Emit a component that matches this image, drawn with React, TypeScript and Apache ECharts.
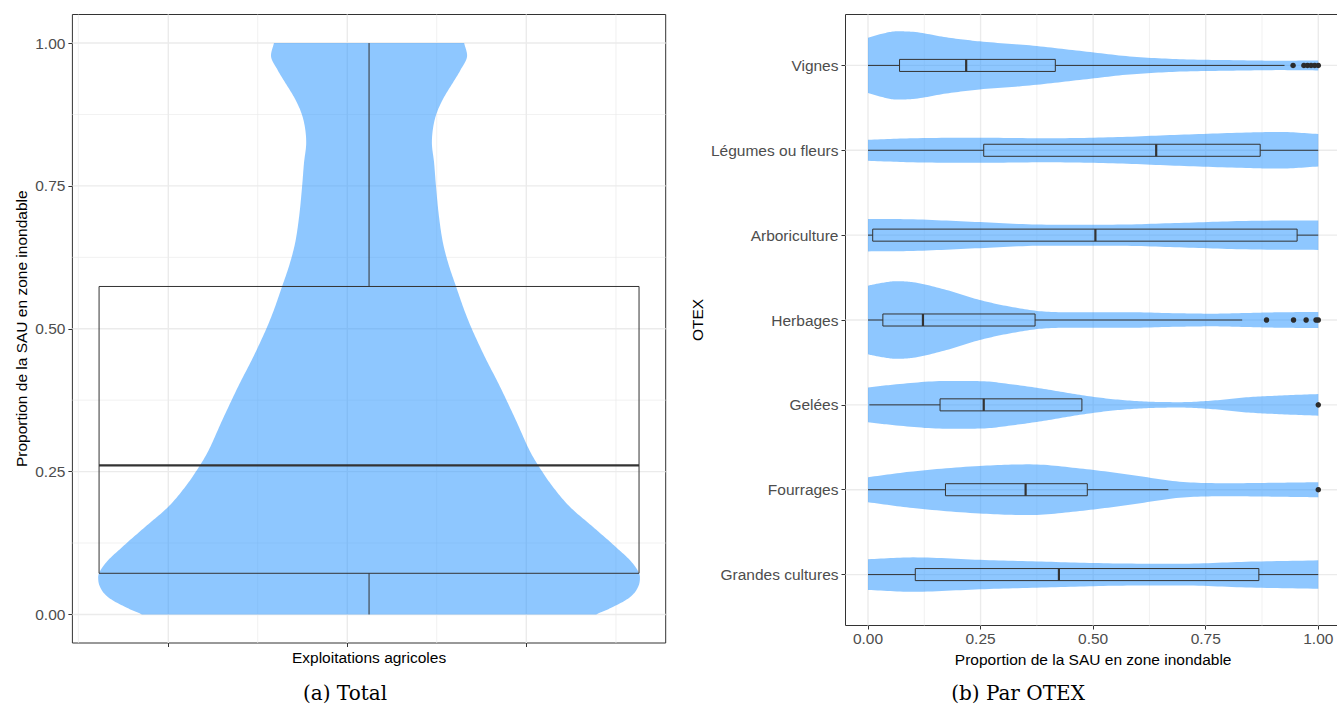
import React, { useEffect, useRef } from "react";
import * as echarts from "echarts";

// ---------------- Left panel (a) Total ----------------
const leftYTicks = [0, 0.25, 0.5, 0.75, 1];
const leftYMinor = [0.125, 0.375, 0.625, 0.875];
const leftXTicks = [-0.335, -0.0363, 0.2624];
const leftXMinor = [-0.485, -0.1858, 0.1129, 0.412];

const leftViolinValues = [0, 0.013, 0.03, 0.048, 0.065, 0.089, 0.118, 0.153, 0.188, 0.223, 0.253, 0.282, 0.34, 0.399, 0.457, 0.516, 0.574, 0.615, 0.65, 0.697, 0.75, 0.791, 0.826, 0.861, 0.884, 0.908, 0.931, 0.954, 0.978, 1.0];
const leftViolinDensity = [0.838, 0.9, 0.963, 0.993, 1.0, 0.974, 0.911, 0.827, 0.742, 0.679, 0.635, 0.598, 0.542, 0.483, 0.421, 0.365, 0.321, 0.292, 0.273, 0.258, 0.247, 0.24, 0.232, 0.24, 0.255, 0.28, 0.31, 0.339, 0.362, 0.351];
// [lower whisker, Q1, median, Q3, upper whisker]
const leftBoxStats = [0, 0.072, 0.261, 0.574, 1.0];

// ---------------- Right panel (b) Par OTEX ----------------
// bottom to top
const otexCategories = ["Grandes cultures", "Fourrages", "Gelées", "Herbages", "Arboriculture", "Légumes ou fleurs", "Vignes"];
const rightXTicks = [0, 0.25, 0.5, 0.75, 1];
const rightXMinor = [0.125, 0.375, 0.625, 0.875];

const grandesValues = [0, 0.1, 0.248, 0.396, 0.544, 0.692, 0.84, 1];
const grandesDensity = [0.395, 0.444, 0.38, 0.331, 0.289, 0.279, 0.331, 0.367];
const fourragesValues = [0, 0.1, 0.248, 0.359, 0.47, 0.581, 0.692, 0.803, 0.913, 1];
const fourragesDensity = [0.323, 0.473, 0.612, 0.654, 0.55, 0.388, 0.207, 0.168, 0.181, 0.194];
const geleesValues = [0, 0.063, 0.174, 0.248, 0.322, 0.396, 0.47, 0.544, 0.618, 0.692, 0.766, 0.84, 0.913, 1];
const geleesDensity = [0.447, 0.53, 0.615, 0.612, 0.525, 0.401, 0.258, 0.147, 0.085, 0.07, 0.111, 0.194, 0.24, 0.279];
const herbagesValues = [0, 0.026, 0.063, 0.1, 0.174, 0.248, 0.322, 0.396, 0.47, 0.581, 0.692, 0.766, 0.84, 0.913, 1];
const herbagesDensity = [0.886, 0.948, 1.0, 0.974, 0.775, 0.517, 0.331, 0.214, 0.199, 0.199, 0.173, 0.163, 0.181, 0.199, 0.207];
const arboValues = [0, 0.1, 0.248, 0.396, 0.544, 0.692, 0.84, 1];
const arboDensity = [0.419, 0.408, 0.336, 0.271, 0.271, 0.315, 0.367, 0.38];
const legumesValues = [0, 0.1, 0.248, 0.396, 0.544, 0.692, 0.84, 0.913, 1];
const legumesDensity = [0.271, 0.31, 0.323, 0.31, 0.336, 0.401, 0.457, 0.473, 0.419];
const vignesValues = [0, 0.026, 0.063, 0.1, 0.174, 0.248, 0.359, 0.47, 0.581, 0.692, 0.803, 0.913, 1];
const vignesDensity = [0.711, 0.801, 0.879, 0.866, 0.724, 0.62, 0.517, 0.375, 0.233, 0.16, 0.137, 0.121, 0.129];

const otexViolinValues = [grandesValues, fourragesValues, geleesValues, herbagesValues, arboValues, legumesValues, vignesValues];
const otexViolinDensity = [grandesDensity, fourragesDensity, geleesDensity, herbagesDensity, arboDensity, legumesDensity, vignesDensity];

// [lower whisker, Q1, median, Q3, upper whisker]
const otexBoxStats = [
  [0, 0.105, 0.424, 0.868, 1.0],
  [0, 0.172, 0.35, 0.487, 0.667],
  [0.003, 0.16, 0.257, 0.475, 0.475],
  [0, 0.033, 0.122, 0.371, 0.831],
  [0, 0.0104, 0.505, 0.953, 1.0],
  [0, 0.257, 0.64, 0.871, 1.0],
  [0, 0.07, 0.218, 0.416, 0.925],
];
const otexOutliers = [
  [],
  [1.0],
  [1.0],
  [0.885, 0.945, 0.973, 0.995, 1.0],
  [],
  [],
  [0.944, 0.968, 0.976, 0.984, 0.992, 1.0],
];

// ---------------- styling constants ----------------
const SANS = "'Liberation Sans', Arial, Helvetica, sans-serif";
const SERIF = "'DejaVu Serif', 'Liberation Serif', serif";
const FS = 15.5;
const GRID_COLOR = "#EBEBEB";
const INK = "#333333";
const VIOLIN_FILL = "rgba(30,144,255,0.5)";
const LEFT_VIOLIN_HALF = 0.452;
const LEFT_BOX_HALF = 0.4505;
const RIGHT_VIOLIN_HALF = 0.457;
const RIGHT_BOX_HALF = 0.071;

function monotoneSample(xs: number[], ys: number[], steps = 14): number[][] {
  const n = xs.length;
  const d: number[] = [];
  for (let i = 0; i < n - 1; i++) d.push((ys[i + 1] - ys[i]) / (xs[i + 1] - xs[i]));
  const t: number[] = new Array(n).fill(0);
  t[0] = d[0];
  t[n - 1] = d[n - 2];
  for (let i = 1; i < n - 1; i++) t[i] = d[i - 1] * d[i] <= 0 ? 0 : (d[i - 1] + d[i]) / 2;
  for (let i = 0; i < n - 1; i++) {
    if (d[i] === 0) {
      t[i] = 0;
      t[i + 1] = 0;
      continue;
    }
    const a = t[i] / d[i];
    const b = t[i + 1] / d[i];
    const s = a * a + b * b;
    if (s > 9) {
      const tau = 3 / Math.sqrt(s);
      t[i] = tau * a * d[i];
      t[i + 1] = tau * b * d[i];
    }
  }
  const out: number[][] = [];
  for (let i = 0; i < n - 1; i++) {
    const h = xs[i + 1] - xs[i];
    for (let k = 0; k < steps; k++) {
      const s = k / steps;
      const s2 = s * s;
      const s3 = s2 * s;
      const h00 = 2 * s3 - 3 * s2 + 1;
      const h10 = s3 - 2 * s2 + s;
      const h01 = -2 * s3 + 3 * s2;
      const h11 = s3 - s2;
      out.push([xs[i] + s * h, h00 * ys[i] + h10 * h * t[i] + h01 * ys[i + 1] + h11 * h * t[i + 1]]);
    }
  }
  out.push([xs[n - 1], ys[n - 1]]);
  return out;
}

type GridLine = { dir: "h" | "v"; v: number; major: boolean };

function makeGridSeries(lines: GridLine[], axisIndex: number) {
  return {
    type: "custom",
    xAxisIndex: axisIndex,
    yAxisIndex: axisIndex,
    silent: true,
    z: 1,
    data: lines.map((_, i) => [i]),
    renderItem: (params: any, api: any) => {
      const ln = lines[params.dataIndex];
      const cs = params.coordSys;
      const lw = ln.major ? 1.4 : 0.7;
      if (ln.dir === "h") {
        const y = api.coord([0, ln.v])[1];
        return { type: "line", shape: { x1: cs.x, y1: y, x2: cs.x + cs.width, y2: y }, style: { stroke: GRID_COLOR, lineWidth: lw } };
      }
      const x = api.coord([ln.v, 1])[0];
      return { type: "line", shape: { x1: x, y1: cs.y, x2: x, y2: cs.y + cs.height }, style: { stroke: GRID_COLOR, lineWidth: lw } };
    },
  };
}

const leftGridLines: GridLine[] = [
  ...leftYMinor.map((v) => ({ dir: "h" as const, v, major: false })),
  ...leftXMinor.map((v) => ({ dir: "v" as const, v, major: false })),
  ...leftYTicks.map((v) => ({ dir: "h" as const, v, major: true })),
  ...leftXTicks.map((v) => ({ dir: "v" as const, v, major: true })),
];
const rightGridLines: GridLine[] = [
  ...rightXMinor.map((v) => ({ dir: "v" as const, v, major: false })),
  ...rightXTicks.map((v) => ({ dir: "v" as const, v, major: true })),
  ...otexCategories.map((_, i) => ({ dir: "h" as const, v: i + 1, major: true })),
];

const lineStyle = (w = 1) => ({ stroke: INK, lineWidth: w, fill: "none" });
const hiddenAxisLine = { show: false, onZero: false };

const option: any = {
  animation: false,
  backgroundColor: "#ffffff",
  grid: [
    { left: 72.4, top: 14.5, width: 593.3, height: 628.5, show: true, borderColor: INK, borderWidth: 1, backgroundColor: "#fff", containLabel: false },
    { left: 845.5, top: 14.5, width: 495.3, height: 611, show: true, borderColor: INK, borderWidth: 1, backgroundColor: "#fff", containLabel: false },
  ],
  xAxis: [
    {
      type: "value",
      gridIndex: 0,
      position: "bottom",
      min: -0.495,
      max: 0.495,
      axisLine: hiddenAxisLine,
      axisTick: { show: true, customValues: leftXTicks, length: 4, lineStyle: { color: INK, width: 1 } },
      axisLabel: { show: false },
      splitLine: { show: false },
      name: "Exploitations agricoles",
      nameLocation: "middle",
      nameGap: 6,
      nameTextStyle: { color: "#000", fontSize: FS, fontFamily: SANS },
    },
    {
      type: "value",
      gridIndex: 1,
      position: "bottom",
      min: -0.05,
      max: 1.05,
      axisLine: hiddenAxisLine,
      axisTick: { show: true, customValues: rightXTicks, length: 4, lineStyle: { color: INK, width: 1 } },
      axisLabel: { show: true, customValues: rightXTicks, margin: 4.7, color: "#4D4D4D", fontSize: FS, fontFamily: SANS, formatter: (v: number) => v.toFixed(2) },
      splitLine: { show: false },
      name: "Proportion de la SAU en zone inondable",
      nameLocation: "middle",
      nameGap: 23,
      nameTextStyle: { color: "#000", fontSize: FS, fontFamily: SANS },
    },
  ],
  yAxis: [
    {
      type: "value",
      gridIndex: 0,
      position: "left",
      min: -0.05,
      max: 1.05,
      axisLine: hiddenAxisLine,
      axisTick: { show: true, customValues: leftYTicks, length: 4, lineStyle: { color: INK, width: 1 } },
      axisLabel: { show: true, customValues: leftYTicks, margin: 7, color: "#4D4D4D", fontSize: FS, fontFamily: SANS, formatter: (v: number) => v.toFixed(2) },
      splitLine: { show: false },
      name: "Proportion de la SAU en zone inondable",
      nameLocation: "middle",
      nameRotate: 90,
      nameGap: 43,
      nameTextStyle: { color: "#000", fontSize: FS, fontFamily: SANS },
    },
    {
      type: "value",
      gridIndex: 1,
      position: "left",
      min: 0.4,
      max: 7.6,
      axisLine: hiddenAxisLine,
      axisTick: { show: true, customValues: otexCategories.map((_, i) => i + 1), length: 4, lineStyle: { color: INK, width: 1 } },
      axisLabel: {
        show: true,
        customValues: otexCategories.map((_, i) => i + 1),
        margin: 7,
        color: "#4D4D4D",
        fontSize: FS,
        fontFamily: SANS,
        formatter: (v: number) => otexCategories[Math.round(v) - 1] ?? "",
      },
      splitLine: { show: false },
      name: "OTEX",
      nameLocation: "middle",
      nameRotate: 90,
      nameGap: 140,
      nameTextStyle: { color: "#000", fontSize: FS, fontFamily: SANS },
    },
  ],
  series: [
    makeGridSeries(leftGridLines, 0),
    makeGridSeries(rightGridLines, 1),
    // left violin
    {
      type: "custom",
      xAxisIndex: 0,
      yAxisIndex: 0,
      silent: true,
      z: 2,
      data: [[0]],
      renderItem: (_params: any, api: any) => {
        const pts = monotoneSample(leftViolinValues, leftViolinDensity);
        const right = pts.map(([v, d]) => api.coord([d * LEFT_VIOLIN_HALF, v]));
        const left = pts.slice().reverse().map(([v, d]) => api.coord([-d * LEFT_VIOLIN_HALF, v]));
        return { type: "polygon", shape: { points: right.concat(left) }, style: { fill: VIOLIN_FILL, stroke: "none" } };
      },
    },
    // left box
    {
      type: "custom",
      xAxisIndex: 0,
      yAxisIndex: 0,
      silent: true,
      z: 3,
      data: [[0]],
      renderItem: (_params: any, api: any) => {
        const [lw, q1, med, q3, uw] = leftBoxStats;
        const c = (x: number, v: number) => api.coord([x, v]);
        const a = c(-LEFT_BOX_HALF, q3);
        const b = c(LEFT_BOX_HALF, q1);
        const m0 = c(-LEFT_BOX_HALF, med);
        const m1 = c(LEFT_BOX_HALF, med);
        const w0 = c(0, lw);
        const w1 = c(0, q1);
        const w2 = c(0, q3);
        const w3 = c(0, uw);
        return {
          type: "group",
          children: [
            { type: "line", shape: { x1: w0[0], y1: w0[1], x2: w1[0], y2: w1[1] }, style: lineStyle(1) },
            { type: "line", shape: { x1: w2[0], y1: w2[1], x2: w3[0], y2: w3[1] }, style: lineStyle(1) },
            { type: "rect", shape: { x: a[0], y: a[1], width: b[0] - a[0], height: b[1] - a[1] }, style: lineStyle(1) },
            { type: "line", shape: { x1: m0[0], y1: m0[1], x2: m1[0], y2: m1[1] }, style: lineStyle(2.2) },
          ],
        };
      },
    },
    // right violins
    {
      type: "custom",
      xAxisIndex: 1,
      yAxisIndex: 1,
      silent: true,
      z: 2,
      data: otexCategories.map((_, i) => [i]),
      renderItem: (params: any, api: any) => {
        const i = params.dataIndex;
        const p = i + 1;
        const pts = monotoneSample(otexViolinValues[i], otexViolinDensity[i]);
        const upper = pts.map(([v, d]) => api.coord([v, p + d * RIGHT_VIOLIN_HALF]));
        const lower = pts.slice().reverse().map(([v, d]) => api.coord([v, p - d * RIGHT_VIOLIN_HALF]));
        return { type: "polygon", shape: { points: upper.concat(lower) }, style: { fill: VIOLIN_FILL, stroke: "none" } };
      },
    },
    // right boxes
    {
      type: "custom",
      xAxisIndex: 1,
      yAxisIndex: 1,
      silent: true,
      z: 3,
      data: otexCategories.map((_, i) => [i]),
      renderItem: (params: any, api: any) => {
        const i = params.dataIndex;
        const p = i + 1;
        const [lw, q1, med, q3, uw] = otexBoxStats[i];
        const c = (v: number, y: number) => api.coord([v, y]);
        const a = c(q1, p + RIGHT_BOX_HALF);
        const b = c(q3, p - RIGHT_BOX_HALF);
        const m0 = c(med, p + RIGHT_BOX_HALF);
        const m1 = c(med, p - RIGHT_BOX_HALF);
        const w0 = c(lw, p);
        const w1 = c(q1, p);
        const w2 = c(q3, p);
        const w3 = c(uw, p);
        const children: any[] = [];
        if (q1 > lw) children.push({ type: "line", shape: { x1: w0[0], y1: w0[1], x2: w1[0], y2: w1[1] }, style: lineStyle(1) });
        if (uw > q3) children.push({ type: "line", shape: { x1: w2[0], y1: w2[1], x2: w3[0], y2: w3[1] }, style: lineStyle(1) });
        children.push({ type: "rect", shape: { x: a[0], y: a[1], width: b[0] - a[0], height: b[1] - a[1] }, style: lineStyle(1) });
        children.push({ type: "line", shape: { x1: m0[0], y1: m0[1], x2: m1[0], y2: m1[1] }, style: lineStyle(2.2) });
        return { type: "group", children };
      },
    },
    // outliers
    {
      type: "scatter",
      xAxisIndex: 1,
      yAxisIndex: 1,
      silent: true,
      z: 4,
      symbol: "circle",
      symbolSize: 5.5,
      itemStyle: { color: "#2b2b2b", opacity: 1 },
      data: otexOutliers.flatMap((vals, i) => vals.map((v) => [v, i + 1])),
    },
  ],
  graphic: [
    { type: "text", x: 345, y: 693, style: { text: "(a) Total", fill: "#000", font: `20px ${SERIF}`, textAlign: "center", textVerticalAlign: "middle" } },
    { type: "text", x: 1018, y: 693, style: { text: "(b) Par OTEX", fill: "#000", font: `20px ${SERIF}`, textAlign: "center", textVerticalAlign: "middle" } },
  ],
};

export default function App() {
  const ref = useRef<HTMLDivElement>(null);
  useEffect(() => {
    if (!ref.current) return;
    const chart = echarts.init(ref.current, null, { renderer: "svg" });
    chart.setOption(option);
    return () => chart.dispose();
  }, []);
  return (
    <div style={{ position: "absolute", left: 0, top: 0, width: 1337, height: 704, overflow: "hidden", background: "#fff" }}>
      <div ref={ref} style={{ position: "absolute", left: 0, top: 0, width: 1346, height: 704 }} />
    </div>
  );
}
